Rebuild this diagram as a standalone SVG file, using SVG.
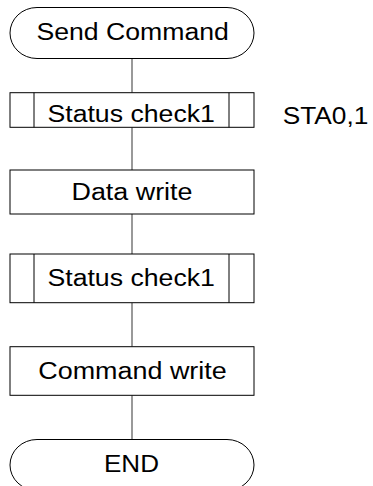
<svg xmlns="http://www.w3.org/2000/svg" width="373" height="486" viewBox="0 0 373 486">
<style>
.shape{fill:#fff;stroke:#000;stroke-width:1}
.conn{stroke:#555;stroke-width:1.2;fill:none}
.lbl{font-family:"Liberation Sans",Arial,sans-serif;font-size:23px;fill:#000}
.mid{text-anchor:middle}
</style>
<rect width="373" height="486" fill="#fff"/>
<g id="connectors">
<line class="conn" x1="132" y1="58.5" x2="132" y2="92.7"/>
<line class="conn" x1="132" y1="127.3" x2="132" y2="170"/>
<line class="conn" x1="132" y1="214" x2="132" y2="254"/>
<line class="conn" x1="132" y1="302.7" x2="132" y2="346.7"/>
<line class="conn" x1="132" y1="395.3" x2="132" y2="439.5"/>
</g>
<g id="start">
<path class="shape" d="M37 7.5H227A27 25.5 0 0 1 227 58.5H37A27 25.5 0 0 1 37 7.5Z"/>
<text class="lbl mid" x="132.7" y="40" textLength="192.5" lengthAdjust="spacingAndGlyphs">Send Command</text>
</g>
<g id="status1">
<rect class="shape" x="10" y="92.7" width="244" height="34.6"/>
<line class="shape" x1="34" y1="92.7" x2="34" y2="127.3"/>
<line class="shape" x1="229" y1="92.7" x2="229" y2="127.3"/>
<text class="lbl mid" x="131.2" y="121.7" textLength="167.5" lengthAdjust="spacingAndGlyphs">Status check1</text>
</g>
<g id="note">
<text class="lbl" x="282.7" y="123.5" textLength="85.6" lengthAdjust="spacingAndGlyphs">STA0,1</text>
</g>
<g id="datawrite">
<rect class="shape" x="10" y="170" width="244" height="44"/>
<text class="lbl mid" x="132" y="199.5" textLength="121" lengthAdjust="spacingAndGlyphs">Data write</text>
</g>
<g id="status2">
<rect class="shape" x="10" y="254" width="244" height="48.7"/>
<line class="shape" x1="34" y1="254" x2="34" y2="302.7"/>
<line class="shape" x1="229" y1="254" x2="229" y2="302.7"/>
<text class="lbl mid" x="131.2" y="285.5" textLength="167.5" lengthAdjust="spacingAndGlyphs">Status check1</text>
</g>
<g id="cmdwrite">
<rect class="shape" x="10" y="346.7" width="244" height="48.6"/>
<text class="lbl mid" x="132.5" y="378.5" textLength="188.4" lengthAdjust="spacingAndGlyphs">Command write</text>
</g>
<g id="end">
<path class="shape" d="M37 439.5H227A27 25.5 0 0 1 227 490.5H37A27 25.5 0 0 1 37 439.5Z"/>
<text class="lbl mid" x="131.5" y="472" textLength="55" lengthAdjust="spacingAndGlyphs">END</text>
</g>
</svg>
